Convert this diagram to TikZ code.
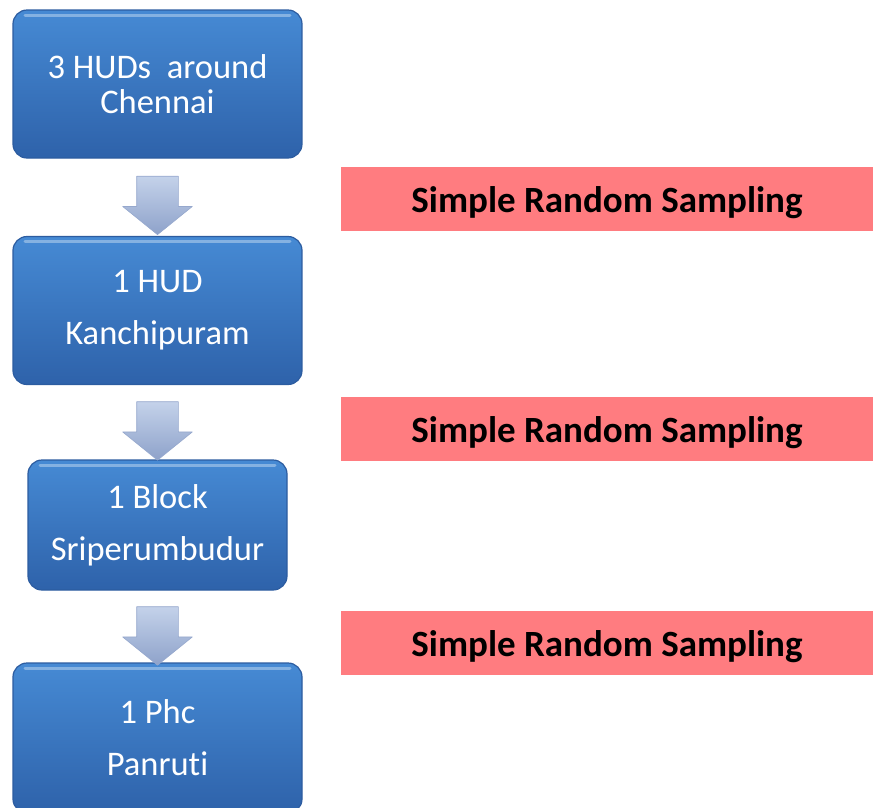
\documentclass[tikz,border=0pt]{standalone}
\usepackage{fontspec}
\setmainfont{Carlito}[Ligatures=NoCommon]
\usetikzlibrary{shapes.arrows}
\definecolor{hudtop}{RGB}{70,138,212}
\definecolor{hudbottom}{RGB}{46,98,170}
\definecolor{hudedge}{RGB}{44,92,160}
\definecolor{arrowtop}{RGB}{196,210,234}
\definecolor{arrowbottom}{RGB}{142,162,202}
\definecolor{arrowedge}{RGB}{150,168,205}
\definecolor{pinkfill}{RGB}{255,124,128}

\begin{document}
\begin{tikzpicture}[x=1pt,y=-1pt,line join=round,
    hudbox/.style={rounded corners=14pt,draw=hudedge,line width=1.2pt,top color=hudtop,bottom color=hudbottom,
      text=white,align=center,inner sep=0pt,font=\fontsize{34.5}{35}\selectfont,
      path picture={\draw[white,opacity=0.35,line width=3pt,line cap=round]
        ([xshift=12pt,yshift=-5pt]path picture bounding box.north west) --
        ([xshift=-12pt,yshift=-5pt]path picture bounding box.north east);}},
    downarrow/.style={single arrow,rotate=-90,minimum height=58pt,minimum width=69pt,inner sep=20.5pt,
      single arrow head extend=14pt,single arrow tip angle=102,top color=arrowtop,bottom color=arrowbottom,
      draw=arrowedge,line width=0.6pt},
    sampling/.style={fill=pinkfill,minimum width=532pt,minimum height=64pt,inner sep=0pt,
      text height=35pt,text depth=8pt,font=\fontsize{37}{40}\selectfont\bfseries}]
    \useasboundingbox (0,0) rectangle (873,807);
    \clip (0,0) rectangle (873,807);
    % boxes of the chain
    \node[hudbox,minimum width=289pt,minimum height=148pt] (hudchennai) at (157.5,84) {3 HUDs\ \ around\\Chennai};
    \node[hudbox,minimum width=289pt,minimum height=148pt] (hudkanchi) at (157.5,310.5) {1 HUD\\[17pt]Kanchipuram};
    \node[hudbox,minimum width=259pt,minimum height=130pt] (blocksri) at (157.5,525) {1 Block\\[17pt]Sriperumbudur};
    \node[hudbox,minimum width=289pt,minimum height=150pt] (phcpanruti) at (157.5,738) {1 Phc\\[17pt]Panruti};
    % arrows between them
    \node[downarrow] (arrowone) at (157.5,197) {};
    \node[downarrow] (arrowtwo) at (157.5,422.5) {};
    \node[downarrow] (arrowthree) at (157.5,627.5) {};
    % sampling labels
    \node[sampling] (srsone) at (607,199) {Simple Random Sampling};
    \node[sampling] (srstwo) at (607,428.5) {Simple Random Sampling};
    \node[sampling] (srsthree) at (607,643) {Simple Random Sampling};
\end{tikzpicture}
\end{document}
